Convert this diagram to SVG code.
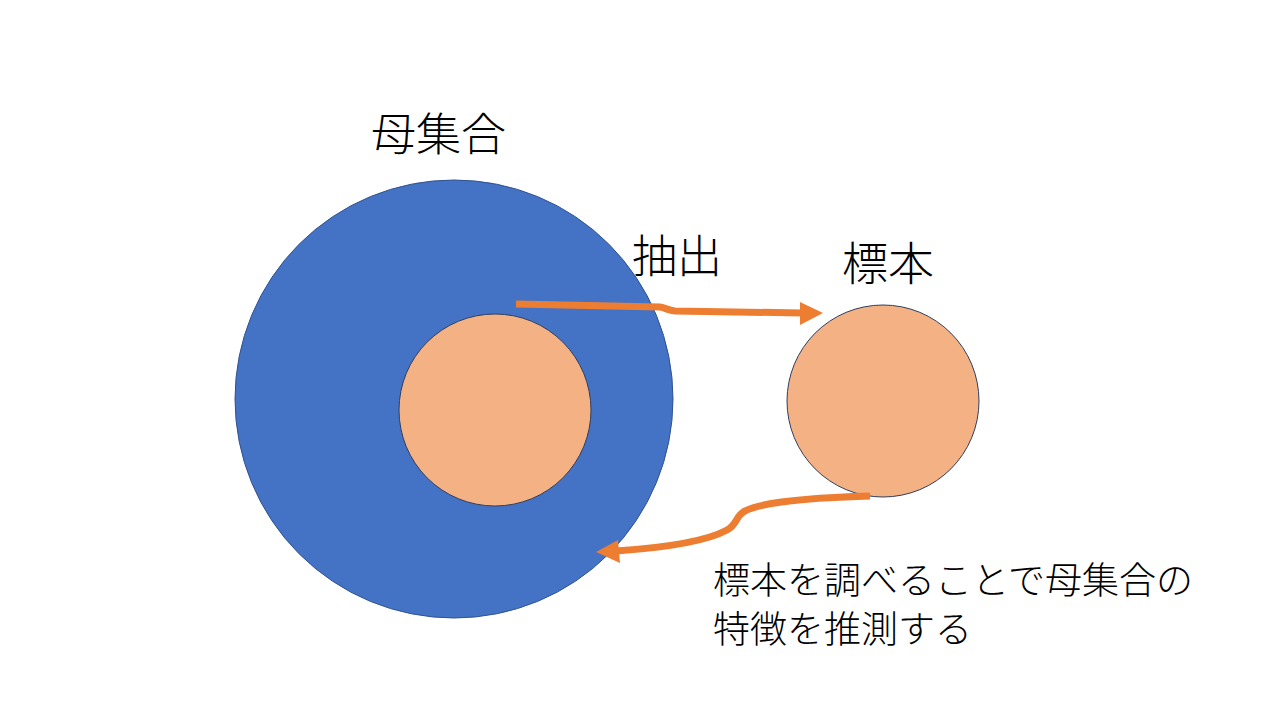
<svg xmlns="http://www.w3.org/2000/svg" width="1280" height="720" viewBox="0 0 1280 720">
<style>
  .lbl { font-family: "Noto Sans CJK JP", "Noto Sans CJK SC", sans-serif; font-weight: 300; fill: #000; }
  .blue { fill: #4472C4; stroke: #2F528F; stroke-width: 1; }
  .peach { fill: #F4B183; stroke: #2F3F5F; stroke-width: 1; }
  .arrow { fill: none; stroke: #ED7D31; stroke-width: 7; }
  .head { fill: #ED7D31; }
</style>
<rect width="1280" height="720" fill="#FFFFFF"/>
<g id="population">
  <circle class="blue" cx="454" cy="399" r="219"/>
  <text class="lbl" x="371" y="151" font-size="45">母集合</text>
</g>
<g id="sample-inner">
  <circle class="peach" cx="495" cy="410" r="96"/>
</g>
<g id="sample">
  <circle class="peach" cx="883" cy="401" r="96"/>
  <text class="lbl" x="842" y="280" font-size="46">標本</text>
</g>
<g id="connectors">
  <path class="arrow" d="M516,304 L660,307 C666,308 668,310.5 675,311 L802,313"/>
  <polygon class="head" points="800,302 823,313 800,325"/>
  <path class="arrow" d="M870,496 C800,498 760,503 745,511 C735,516 738,524 727,530 C705,542 660,548 616,551"/>
  <polygon class="head" points="618,540 596,552 620,563"/>
</g>
<g id="label-extract">
  <text class="lbl" x="632" y="273" font-size="45">抽出</text>
</g>
<g id="label-infer">
  <text class="lbl" font-size="37"><tspan x="713" y="594">標本を調べることで母集合の</tspan><tspan x="713" y="643">特徴を推測する</tspan></text>
</g>
</svg>
